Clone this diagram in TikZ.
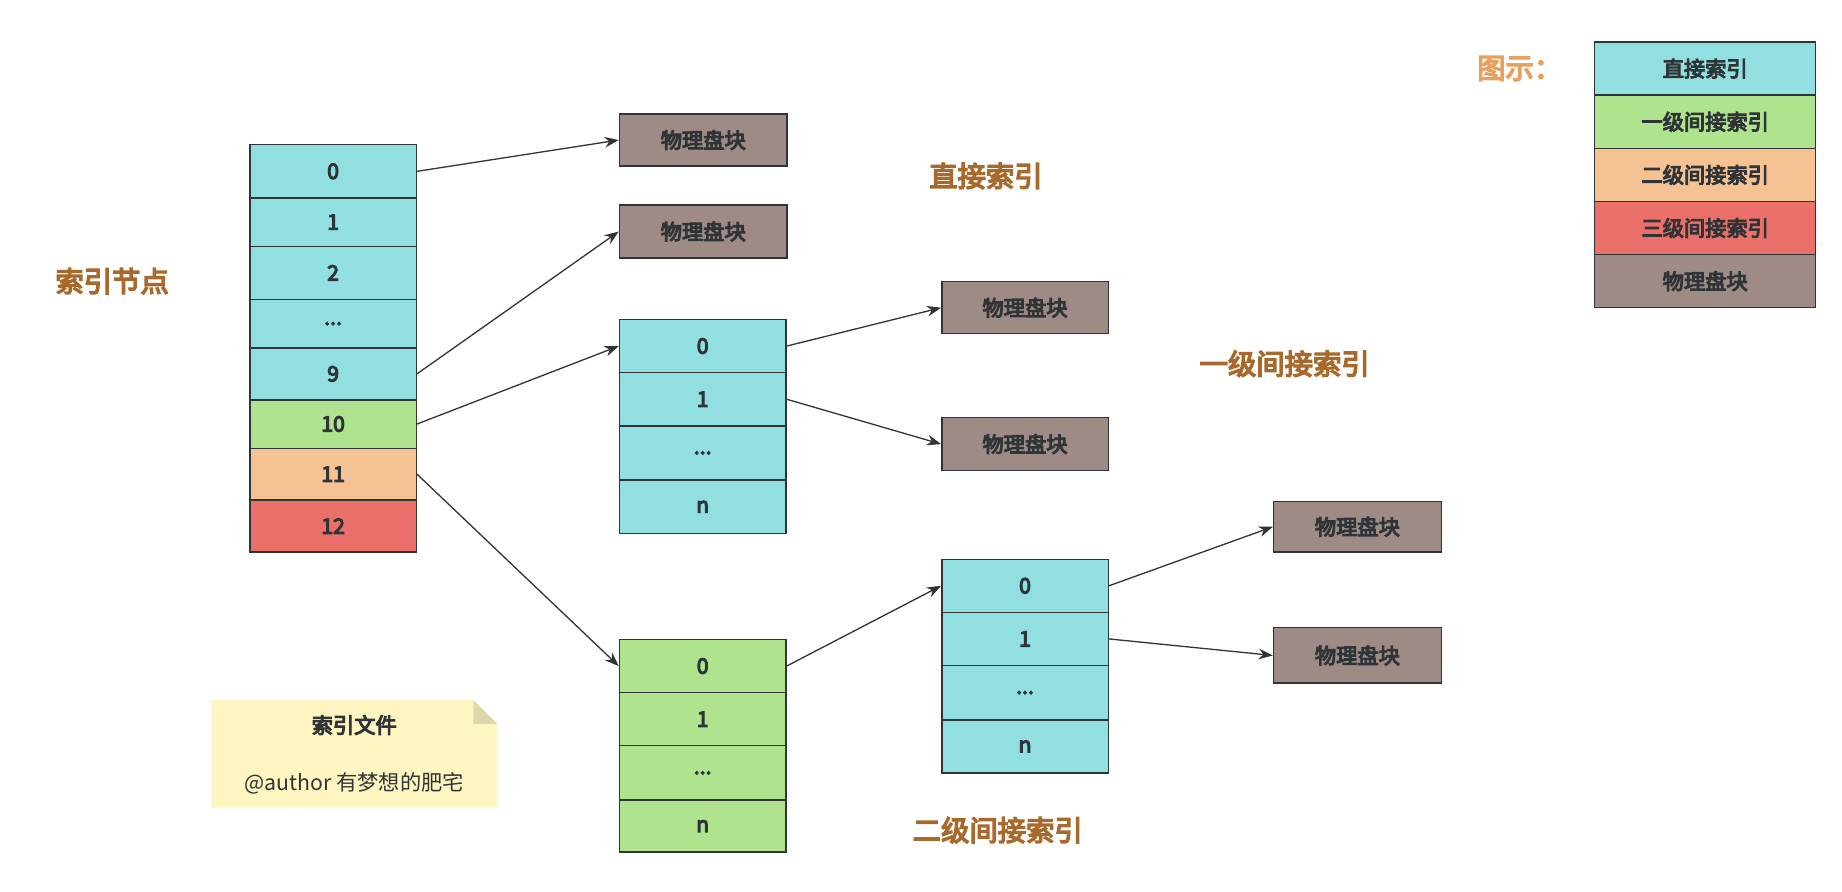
\documentclass[tikz,border=0pt]{standalone}
\usepackage{fontspec}
\setmainfont{Noto Sans CJK SC}
\newfontfamily\cjkb{Noto Sans CJK SC}[FakeBold=5]
\usetikzlibrary{arrows.meta}
\definecolor{cy}{HTML}{91DFE0}
\definecolor{gr}{HTML}{B0E38E}
\definecolor{orr}{HTML}{F5C393}
\definecolor{rd}{HTML}{EC706A}
\definecolor{br}{HTML}{9E8B86}
\definecolor{lab}{HTML}{A86A2C}
\definecolor{leg}{HTML}{E8A060}
\definecolor{ink}{HTML}{2F3437}
\definecolor{note}{HTML}{FFF5C0}
\tikzset{
 cell/.style={draw=ink,line width=1.2pt,minimum width=141pt,minimum height=44pt,inner sep=0pt,font=\cjkb\fontsize{18}{18}\selectfont,text=ink,anchor=north west},
 arr/.style={-{Stealth[length=12pt,width=9pt]},draw=ink,line width=1.1pt},
 title/.style={font=\cjkb\fontsize{24}{24}\selectfont,text=lab}
}
\begin{document}
\begin{tikzpicture}[x=1pt,y=-1pt]
\useasboundingbox[fill=white] (0,0) rectangle (1560,755);
% index node
\node[cell,fill=cy,minimum height=45pt] (i0) at (211,122) {0};
\node[cell,fill=cy,minimum height=41pt] (i1) at (211,167) {1};
\node[cell,fill=cy,minimum height=45pt] (i2) at (211,208) {2};
\node[cell,fill=cy,minimum height=41pt] (i3) at (211,253) {...};
\node[cell,fill=cy,minimum height=44pt] (i9) at (211,294) {9};
\node[cell,fill=gr,minimum height=41pt] (i10) at (211,338) {10};
\node[cell,fill=orr,minimum height=44pt] (i11) at (211,379) {11};
\node[cell,fill=rd,minimum height=44pt] (i12) at (211,423) {12};
% physical blocks
\node[cell,fill=br,minimum width=142pt] (p1) at (524,96) {物理盘块};
\node[cell,fill=br,minimum width=142pt,minimum height=45pt] (p2) at (524,173) {物理盘块};
% first level
\node[cell,fill=cy,minimum height=45pt] (a0) at (524,270) {0};
\node[cell,fill=cy,minimum height=45pt] (a1) at (524,315) {1};
\node[cell,fill=cy,minimum height=46pt] (a2) at (524,360) {...};
\node[cell,fill=cy,minimum height=45pt] (a3) at (524,406) {n};
\node[cell,fill=br] (p3) at (797,238) {物理盘块};
\node[cell,fill=br,minimum height=45pt] (p4) at (797,353) {物理盘块};
% second level
\node[cell,fill=gr,minimum height=45pt] (b0) at (524,541) {0};
\node[cell,fill=gr,minimum height=45pt] (b1) at (524,586) {1};
\node[cell,fill=gr,minimum height=46pt] (b2) at (524,631) {...};
\node[cell,fill=gr,minimum height=44pt] (b3) at (524,677) {n};
\node[cell,fill=cy,minimum height=45pt] (c0) at (797,473) {0};
\node[cell,fill=cy,minimum height=45pt] (c1) at (797,518) {1};
\node[cell,fill=cy,minimum height=46pt] (c2) at (797,563) {...};
\node[cell,fill=cy,minimum height=45pt] (c3) at (797,609) {n};
\node[cell,fill=br,minimum width=142pt,minimum height=43pt] (p5) at (1078,424) {物理盘块};
\node[cell,fill=br,minimum width=142pt,minimum height=47pt] (p6) at (1078,531) {物理盘块};
% arrows
\draw[arr] (i0.east) -- (p1.west);
\draw[arr] (i9.east) -- (p2.west);
\draw[arr] (i10.east) -- (a0.west);
\draw[arr] (i11.east) -- (b0.west);
\draw[arr] (a0.east) -- (p3.west);
\draw[arr] (a1.east) -- (p4.west);
\draw[arr] (b0.east) -- (c0.west);
\draw[arr] (c0.east) -- (p5.west);
\draw[arr] (c1.east) -- (p6.west);
% titles
\node[title] (t1) at (95,238) {索引节点};
\node[title] (t2) at (835,149) {直接索引};
\node[title] (t3) at (1088,308) {一级间接索引};
\node[title] (t4) at (845,703) {二级间接索引};
% legend
\node[font=\cjkb\fontsize{24}{24}\selectfont,text=leg] (lg) at (1287,58) {图示：};
\node[cell,fill=cy,minimum width=187pt,minimum height=45pt] (l1) at (1350,35) {直接索引};
\node[cell,fill=gr,minimum width=187pt,minimum height=45pt] (l2) at (1350,80) {一级间接索引};
\node[cell,fill=orr,minimum width=187pt,minimum height=45pt] (l3) at (1350,125) {二级间接索引};
\node[cell,fill=rd,minimum width=187pt,minimum height=45pt] (l4) at (1350,170) {三级间接索引};
\node[cell,fill=br,minimum width=187pt,minimum height=45pt] (l5) at (1350,215) {物理盘块};
% note
\fill[note] (179,593) -- (401,593) -- (421,613) -- (421,684) -- (179,684) -- cycle;
\fill[black!12!note] (401,593) -- (401,613) -- (421,613) -- cycle;
\node[font=\cjkb\fontsize{18}{18}\selectfont,text=ink] (n1) at (300,614) {索引文件};
\node[font=\fontsize{18}{18}\selectfont,text=ink] (n2) at (300,663) {@author 有梦想的肥宅};
\end{tikzpicture}
\end{document}
